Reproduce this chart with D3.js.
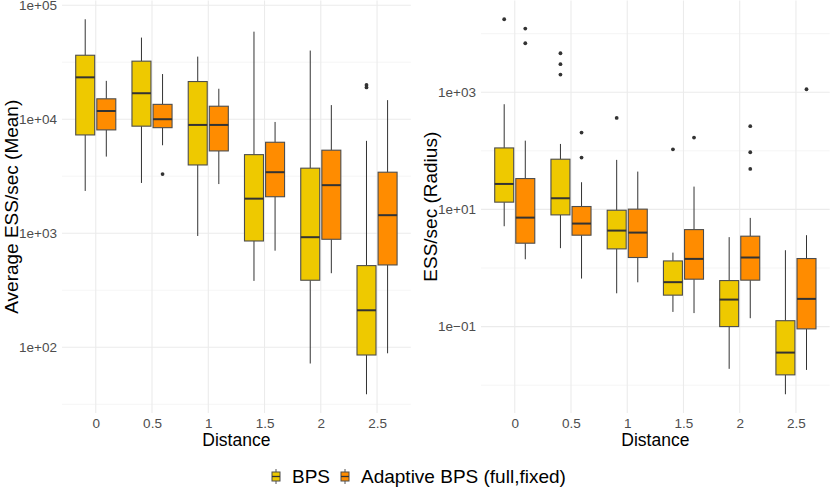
<!DOCTYPE html>
<html>
<head>
<meta charset="utf-8">
<script src="https://cdn.jsdelivr.net/npm/d3@7"></script>
<style>
  body { margin: 0; background: #fff; }
  text { font-family: "Liberation Sans", Arial, sans-serif; }
</style>
</head>
<body>
<svg id="chart" width="830" height="488"></svg>
<script>
const distances = ['0', '0.5', '1', '1.5', '2', '2.5'];
const methods = ['BPS', 'Adaptive BPS (full,fixed)'];
const methodColors = ['#EEC900', '#FF8C00'];

// each row: [lower whisker, Q1, median, Q3, upper whisker], one row per distance
const meanBPS = [
  [2350, 7280, 23300, 36400, 75300],
  [2760, 8690, 16900, 32300, 52000],
  [946, 3970, 8910, 21400, 35400],
  [382, 855, 2010, 4890, 58600],
  [72, 387, 923, 3720, 40000],
  [38.7, 85.5, 211, 520, 6460]
];
const meanAdaptive = [
  [4700, 8060, 11800, 15100, 21700],
  [5910, 8430, 10000, 13500, 24900],
  [2700, 5270, 8910, 13000, 18500],
  [703, 2090, 3430, 6280, 9460],
  [446, 885, 2640, 5350, 13300],
  [88.5, 527, 1440, 3430, 14700]
];
const meanOutBPS = [[], [], [], [], [], [20000, 19000]];
const meanOutAdaptive = [[], [3300], [], [], [], []];

const radiusBPS = [
  [5.16, 13.3, 27.2, 112, 624],
  [2.18, 8.06, 15.5, 71.9, 131],
  [0.37, 2.12, 4.35, 9.68, 70],
  [0.178, 0.344, 0.573, 1.32, 1.83],
  [0.019, 0.1, 0.289, 0.61, 3.36],
  [0.007, 0.015, 0.036, 0.126, 2.01]
];
const radiusAdaptive = [
  [1.41, 2.65, 7.24, 33.6, 149],
  [0.66, 3.63, 5.73, 11.2, 29.1],
  [0.57, 1.51, 4.02, 10.1, 44.2],
  [0.17, 0.644, 1.43, 4.52, 24.5],
  [0.139, 0.62, 1.51, 3.49, 7.16],
  [0.0182, 0.0914, 0.297, 1.45, 3.63]
];
const radiusOutBPS = [[17600], [4630, 3010, 2000], [364], [106], [], []];
const radiusOutAdaptive = [[12200, 6850], [205, 76.6], [], [168], [263, 94.6, 49.1], [1125]];

const meanTicks = [1e2, 1e3, 1e4, 1e5];
const radiusTicks = [1e-1, 1e1, 1e3];

const svg = d3.select('#chart');
const panelTop = 0.5, panelBottom = 413;

function sciLabel(v) {
  const e = Math.round(Math.log10(v));
  const sign = e < 0 ? '\u2212' : '+';
  return '1e' + sign + String(Math.abs(e)).padStart(2, '0');
}

function drawPanel(opts) {
  const { x0, x1, boxes, outliers, ticks, title, titleX, titleSize } = opts;

  // log domain with 5% expansion like ggplot
  const allVals = boxes.flat(2).concat(outliers.flat(2));
  const lo = Math.log10(d3.min(allVals)), hi = Math.log10(d3.max(allVals));
  const pad = (hi - lo) * 0.05;
  const y = d3.scaleLog()
    .domain([Math.pow(10, lo - pad), Math.pow(10, hi + pad)])
    .range([panelBottom, panelTop]);

  const x = d3.scalePoint().domain(distances).range([x0, x1]).padding(0.6);
  const step = x.step();
  const dodge = d3.scaleBand().domain(methods)
    .range([-0.375 * step, 0.375 * step])
    .paddingInner(0.1).paddingOuter(0.05);

  const g = svg.append('g');

  // minor grid lines halfway between majors (in log space)
  const eLo = Math.floor(lo - pad), eHi = Math.ceil(hi + pad);
  const minor = [];
  const gap = Math.log10(ticks[1] / ticks[0]);
  for (let e = eLo; e <= eHi; e++) {
    const v = gap > 1.5 ? Math.pow(10, e) : Math.pow(10, e + 0.5);
    if (!ticks.includes(v) && y(v) >= panelTop && y(v) <= panelBottom) minor.push(v);
  }
  g.selectAll('.minor').data(minor).enter().append('line')
    .attr('x1', x0).attr('x2', x1)
    .attr('y1', d => y(d)).attr('y2', d => y(d))
    .attr('stroke', '#F2F2F2').attr('stroke-width', 0.8);

  g.selectAll('.hmajor').data(ticks).enter().append('line')
    .attr('x1', x0).attr('x2', x1)
    .attr('y1', d => y(d)).attr('y2', d => y(d))
    .attr('stroke', '#EBEBEB').attr('stroke-width', 1.1);

  g.selectAll('.vmajor').data(distances).enter().append('line')
    .attr('x1', d => x(d)).attr('x2', d => x(d))
    .attr('y1', panelTop).attr('y2', panelBottom)
    .attr('stroke', '#EBEBEB').attr('stroke-width', 1.1);

  // boxes
  methods.forEach((m, mi) => {
    const bw = dodge.bandwidth();
    distances.forEach((dist, di) => {
      const [wLo, q1, med, q3, wHi] = boxes[mi][di];
      const cx = x(dist) + dodge(m) + bw / 2;
      const bg = g.append('g');
      bg.append('line').attr('x1', cx).attr('x2', cx)
        .attr('y1', y(q3)).attr('y2', y(wHi))
        .attr('stroke', '#333').attr('stroke-width', 1);
      bg.append('line').attr('x1', cx).attr('x2', cx)
        .attr('y1', y(q1)).attr('y2', y(wLo))
        .attr('stroke', '#333').attr('stroke-width', 1);
      bg.append('rect')
        .attr('x', cx - bw / 2).attr('width', bw)
        .attr('y', y(q3)).attr('height', y(q1) - y(q3))
        .attr('fill', methodColors[mi])
        .attr('stroke', '#4d4d4d').attr('stroke-width', 1.1);
      bg.append('line').attr('x1', cx - bw / 2).attr('x2', cx + bw / 2)
        .attr('y1', y(med)).attr('y2', y(med))
        .attr('stroke', '#333').attr('stroke-width', 2);
      bg.selectAll('circle').data(outliers[mi][di]).enter().append('circle')
        .attr('cx', cx).attr('cy', d => y(d)).attr('r', 1.9)
        .attr('fill', '#333');
    });
  });

  // axes
  const yAxis = g.append('g').attr('transform', `translate(${x0},0)`)
    .call(d3.axisLeft(y).tickValues(ticks).tickFormat(sciLabel).tickSize(0).tickPadding(5));
  yAxis.select('.domain').remove();
  yAxis.selectAll('text').attr('fill', '#4D4D4D').attr('font-size', 13.5)
    .style('font-family', '"Liberation Sans", Arial, sans-serif');

  const xAxis = g.append('g').attr('transform', `translate(0,${panelBottom})`)
    .call(d3.axisBottom(x).tickSize(0).tickPadding(5));
  xAxis.select('.domain').remove();
  xAxis.selectAll('text').attr('fill', '#4D4D4D').attr('font-size', 13.5)
    .style('font-family', '"Liberation Sans", Arial, sans-serif');

  g.append('text')
    .attr('x', (x0 + x1) / 2).attr('y', 446)
    .attr('text-anchor', 'middle').attr('font-size', 17.5).attr('fill', '#000')
    .text('Distance');

  g.append('text')
    .attr('transform', `translate(${titleX},${(panelTop + panelBottom) / 2}) rotate(-90)`)
    .attr('text-anchor', 'middle').attr('font-size', titleSize).attr('fill', '#000')
    .text(title);
}

drawPanel({
  x0: 62, x1: 410.8,
  boxes: [meanBPS, meanAdaptive], outliers: [meanOutBPS, meanOutAdaptive],
  ticks: meanTicks, title: 'Average ESS/sec (Mean)', titleX: 17.5, titleSize: 19
});
drawPanel({
  x0: 481, x1: 829.7,
  boxes: [radiusBPS, radiusAdaptive], outliers: [radiusOutBPS, radiusOutAdaptive],
  ticks: radiusTicks, title: 'ESS/sec (Radius)', titleX: 436.5, titleSize: 19
});

// legend
const legendItems = [
  { label: methods[0], color: methodColors[0], x: 272 },
  { label: methods[1], color: methodColors[1], x: 341 }
];
const lg = svg.append('g');
legendItems.forEach(it => {
  const cy = 476.5;
  const k = lg.append('g');
  k.append('line').attr('x1', it.x + 4).attr('x2', it.x + 4)
    .attr('y1', cy - 7.5).attr('y2', cy + 7.5).attr('stroke', '#555').attr('stroke-width', 1);
  k.append('rect').attr('x', it.x).attr('y', cy - 4.5).attr('width', 8).attr('height', 9)
    .attr('fill', it.color).attr('stroke', '#4d4d4d').attr('stroke-width', 1);
  k.append('line').attr('x1', it.x).attr('x2', it.x + 8)
    .attr('y1', cy).attr('y2', cy).attr('stroke', '#333').attr('stroke-width', 1.3);
  lg.append('text').attr('x', it.x + 20).attr('y', cy + 6.5)
    .attr('font-size', 19).attr('fill', '#000').text(it.label);
});
</script>
</body>
</html>
